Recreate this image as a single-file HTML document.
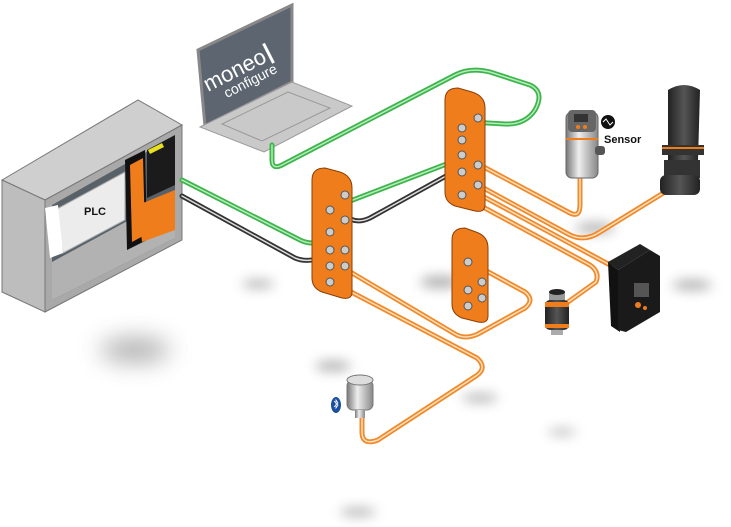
<!DOCTYPE html>
<html><head><meta charset="utf-8"><style>
html,body{margin:0;padding:0;background:#fff;width:731px;height:527px;overflow:hidden}
svg{display:block}
</style></head><body>
<svg width="731" height="527" viewBox="0 0 731 527" xmlns="http://www.w3.org/2000/svg" font-family="Liberation Sans, sans-serif">
<defs>
<filter id="b" x="-300%" y="-300%" width="700%" height="700%"><feGaussianBlur stdDeviation="6"/></filter>
<filter id="b2" x="-300%" y="-300%" width="700%" height="700%"><feGaussianBlur stdDeviation="12"/></filter>
<linearGradient id="cyl" x1="0" x2="1"><stop offset="0" stop-color="#777"/><stop offset=".4" stop-color="#eee"/><stop offset="1" stop-color="#888"/></linearGradient>
<linearGradient id="blk" x1="0" x2="1"><stop offset="0" stop-color="#222"/><stop offset=".5" stop-color="#555"/><stop offset="1" stop-color="#222"/></linearGradient>
</defs>
<g fill="#777" opacity=".6">
<ellipse cx="135" cy="350" rx="35" ry="12" filter="url(#b2)"/>
<ellipse cx="258" cy="284" rx="16" ry="4" filter="url(#b)"/>
<ellipse cx="333" cy="366" rx="18" ry="5" filter="url(#b)"/>
<ellipse cx="692" cy="285" rx="20" ry="5" filter="url(#b)"/>
<ellipse cx="595" cy="228" rx="20" ry="5" filter="url(#b)"/>
<ellipse cx="562" cy="432" rx="14" ry="3" filter="url(#b)"/>
<ellipse cx="480" cy="398" rx="18" ry="4" filter="url(#b)"/>
<ellipse cx="358" cy="512" rx="18" ry="4" filter="url(#b)"/>
<ellipse cx="440" cy="282" rx="20" ry="6" filter="url(#b)"/>
</g>
<polygon points="198,50 292,5 292,82 205,126" fill="#5d6670" stroke="#888" stroke-width="3"/>
<polygon points="200,127 292,82 352,106 264,152" fill="#c9c9c9" stroke="#999"/>
<polygon points="222,124 288,92 330,108 262,141" fill="none" stroke="#999" stroke-width="1"/>
<g transform="translate(208,92) rotate(-27)" fill="#fff">
<text x="0" y="0" font-size="22">moneo</text>
<rect x="70" y="-18" width="3" height="22"/>
<text x="14" y="14" font-size="14">configure</text>
</g>
<polygon points="2,180 138,100 182,125 45,200" fill="#cfcfcf" stroke="#777"/>
<polygon points="2,180 45,200 45,312 2,292" fill="#bdbdbd" stroke="#777"/>
<polygon points="45,200 182,125 182,240 45,312" fill="#a9a9a9" stroke="#777"/>
<polygon points="52,205 175,136 175,238 52,300" fill="#596168"/>
<polygon points="52,262 175,195 175,238 52,300" fill="#b2b2b2"/>
<polygon points="55,210 125,172 125,220 63,253" fill="#ececec" stroke="#aaa"/>
<polygon points="45,208 58,205 63,253 50,258" fill="#fff"/>
<text x="84" y="215" font-size="11" font-weight="bold" fill="#111">PLC</text>
<polygon points="125,160 145,150 147,240 127,250" fill="#111"/>
<polygon points="130,165 143,158 145,235 132,242" fill="#f07d1c"/>
<polygon points="147,150 175,135 175,185 147,198" fill="#1b1b1b"/>
<polygon points="148,150 162,143 164,147 150,154" fill="#e8e020"/>
<polygon points="138,205 175,190 175,230 142,242" fill="#f07d1c"/>
<g fill="none" stroke-linecap="round" stroke-linejoin="round">
<g stroke="#3cb54a" stroke-width="5">
<path d="M182,180 L300,240 Q312,246 325,240 L340,232"/>
<path d="M272,145 L272,160 Q272,170 282,165 L455,75 Q470,67 490,72 L530,85 Q545,92 535,110 Q525,125 505,124 L470,122"/>
<path d="M470,135 Q485,145 470,155 L345,203"/>
</g>
<g stroke="#b8eabf" stroke-width="1.5">
<path d="M182,180 L300,240 Q312,246 325,240 L340,232"/>
<path d="M272,145 L272,160 Q272,170 282,165 L455,75 Q470,67 490,72 L530,85 Q545,92 535,110 Q525,125 505,124 L470,122"/>
<path d="M470,135 Q485,145 470,155 L345,203"/>
</g>
<g stroke="#333" stroke-width="5">
<path d="M182,196 L295,258 Q310,264 325,255 L340,245"/>
<path d="M345,215 Q355,225 370,218 L475,160 Q485,150 478,145"/>
</g>
<g stroke="#ddd" stroke-width="1.5">
<path d="M182,196 L295,258 Q310,264 325,255 L340,245"/>
<path d="M345,215 Q355,225 370,218 L475,160 Q485,150 478,145"/>
</g>
<g stroke="#f08a2a" stroke-width="5">
<path d="M480,165 L570,213 Q580,218 580,205 L580,178"/>
<path d="M478,185 L570,235 Q585,242 600,232 L665,192"/>
<path d="M475,192 L610,265"/>
<path d="M470,200 L590,265 Q600,272 596,282 L568,302"/>
<path d="M332,282 L477,358 Q488,368 476,376 L378,440 Q362,446 362,432 L362,415"/>
<path d="M347,270 L455,334 Q465,340 478,334 L525,308 Q535,300 525,292 L470,262"/>
</g>
<g stroke="#fde0c0" stroke-width="1.5">
<path d="M480,165 L570,213 Q580,218 580,205 L580,178"/>
<path d="M478,185 L570,235 Q585,242 600,232 L665,192"/>
<path d="M475,192 L610,265"/>
<path d="M470,200 L590,265 Q600,272 596,282 L568,302"/>
<path d="M332,282 L477,358 Q488,368 476,376 L378,440 Q362,446 362,432 L362,415"/>
<path d="M347,270 L455,334 Q465,340 478,334 L525,308 Q535,300 525,292 L470,262"/>
</g>
</g>
<g stroke="#8a3e05" stroke-width="1">
<path d="M312,180 Q312,168 325,168 L340,172 Q352,176 352,188 L352,292 Q352,300 342,298 L322,292 Q312,288 312,278 Z" fill="#f07d1c"/>
<path d="M445,100 Q445,88 458,88 L472,92 Q485,96 485,108 L485,205 Q485,213 475,211 L455,206 Q445,202 445,192 Z" fill="#f07d1c"/>
<path d="M452,240 Q452,228 465,228 L476,232 Q488,236 488,248 L488,316 Q488,324 478,322 L462,318 Q452,314 452,304 Z" fill="#f07d1c"/>
</g>
<g fill="#ccc" stroke="#555">
<circle cx="345" cy="195" r="4"/><circle cx="330" cy="210" r="4"/><circle cx="345" cy="220" r="4"/><circle cx="330" cy="232" r="4"/><circle cx="330" cy="250" r="4"/><circle cx="345" cy="250" r="4"/><circle cx="330" cy="266" r="4"/><circle cx="345" cy="266" r="4"/><circle cx="330" cy="282" r="4"/>
<circle cx="478" cy="118" r="4"/><circle cx="462" cy="128" r="4"/><circle cx="462" cy="140" r="4"/><circle cx="462" cy="155" r="4"/><circle cx="478" cy="165" r="4"/><circle cx="462" cy="172" r="4"/><circle cx="478" cy="185" r="4"/><circle cx="462" cy="195" r="4"/>
<circle cx="468" cy="262" r="4"/><circle cx="482" cy="282" r="4"/><circle cx="468" cy="290" r="4"/><circle cx="482" cy="298" r="4"/><circle cx="468" cy="306" r="4"/>
</g>
<rect x="566" y="112" width="32" height="66" rx="6" fill="url(#cyl)" stroke="#666"/>
<rect x="568" y="110" width="28" height="22" rx="4" fill="#666"/>
<rect x="574" y="114" width="14" height="8" fill="#333"/>
<circle cx="578" cy="127" r="2" fill="#f07d1c"/><circle cx="585" cy="127" r="2" fill="#f07d1c"/>
<rect x="566" y="138" width="32" height="2" fill="#f07d1c"/>
<rect x="595" y="146" width="10" height="9" rx="3" fill="#555"/>
<circle cx="608" cy="122" r="7" fill="#111"/>
<path d="M603,122 l3,-3 l4,6 l3,-3" stroke="#fff" fill="none" stroke-width="1"/>
<text x="604" y="143" font-size="11" font-weight="bold" fill="#111">Sensor</text>
<path d="M668,90 Q684,80 700,90 L698,160 L668,160 Z" fill="url(#blk)"/>
<rect x="662" y="145" width="42" height="10" fill="#333"/>
<rect x="662" y="147" width="42" height="2" fill="#f07d1c"/>
<path d="M664,160 L700,160 L700,178 L664,178 Z" fill="#333"/>
<rect x="660" y="175" width="40" height="20" rx="6" fill="url(#blk)"/>
<polygon points="608,262 640,244 650,250 618,270" fill="#222"/>
<polygon points="608,262 618,270 620,332 611,326" fill="#111"/>
<polygon points="618,270 650,250 660,256 660,312 626,332 618,330" fill="#1a1a1a"/>
<rect x="634" y="283" width="15" height="14" fill="#555"/>
<circle cx="638" cy="305" r="3" fill="#f07d1c"/><circle cx="645" cy="308" r="2" fill="#f07d1c"/>
<rect x="549" y="292" width="16" height="10" fill="#999"/>
<ellipse cx="557" cy="292" rx="8" ry="3" fill="#222"/>
<rect x="545" y="300" width="24" height="30" rx="5" fill="url(#blk)"/>
<rect x="545" y="302" width="24" height="5" fill="#f07d1c"/>
<rect x="545" y="324" width="24" height="4" fill="#f07d1c"/>
<rect x="551" y="330" width="12" height="5" fill="#aaa"/>
<rect x="347" y="380" width="26" height="30" rx="6" fill="url(#cyl)" stroke="#777"/>
<ellipse cx="360" cy="380" rx="13" ry="5" fill="#ddd" stroke="#777"/>
<rect x="355" y="410" width="10" height="8" fill="url(#cyl)"/>
<ellipse cx="336" cy="405" rx="5" ry="8" fill="#1a4fa0"/>
<path d="M334,401 l4,4 l-2,3 v-8 l2,3 l-4,4" stroke="#fff" fill="none" stroke-width=".8"/>
</svg>
</body></html>
